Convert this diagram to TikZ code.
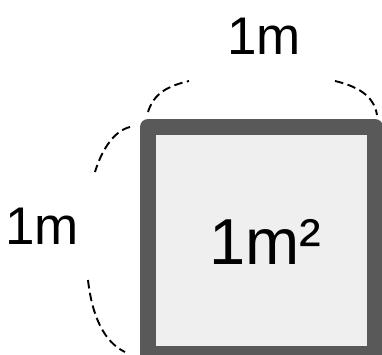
\documentclass[tikz,border=0pt]{standalone}
\usepackage{fontspec}
\setmainfont{Liberation Sans}
\usepackage{xcolor}
\usepackage{tikz}
\usetikzlibrary{positioning, calc}

\definecolor{edgegray}{RGB}{89,89,89}
\definecolor{fillgray}{RGB}{239,239,239}

\begin{document}
\begin{tikzpicture}[x=1pt, y=-1pt,
		brace/.style={black, line width=1.9pt, dash pattern=on 8.5pt off 4.5pt},
		sidelabel/.style={anchor=base, inner sep=0pt, font=\fontsize{53}{60}\selectfont},
		arealabel/.style={anchor=base, inner sep=0pt, font=\fontsize{65}{72}\selectfont}]
					\useasboundingbox (0,0) rectangle (382,355);
					
					\draw [fill=fillgray, draw=edgegray, line width=16pt, line join=round] (148,127) rectangle (375,354);
					\node [arealabel] (area) at (265,264) {1m²};
					
					\node [sidelabel] (top) at (264,55) {1m};
					\draw [brace] (148,112) .. controls (154,93) and (168,86) .. (189,81);
					\draw [brace] (335,81) .. controls (356,86) and (374,95) .. (377,115);
					
					\node [sidelabel] (left) at (42,244) {1m};
					\draw [brace] (130,127) .. controls (113,131) and (101,152) .. (95,172);
					\draw [brace] (88,280) .. controls (92,316) and (104,342) .. (125,352);
\end{tikzpicture}
\end{document}
